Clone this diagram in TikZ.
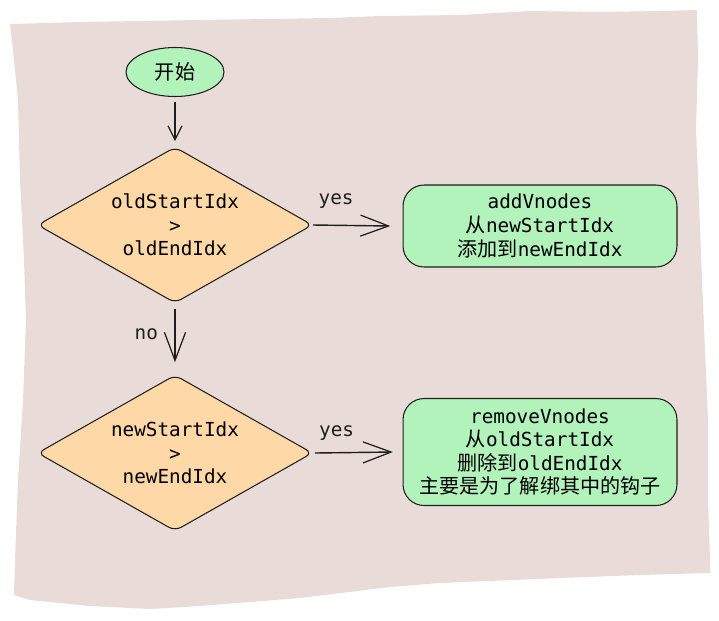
\documentclass[tikz,border=0pt]{standalone}
\usepackage{fontspec}
\setmonofont{DejaVu Sans Mono}
\newfontfamily\cjk{Noto Sans CJK SC}[Scale=1.04]
\usepackage{tikz}
\usetikzlibrary{
  % diamond and ellipse nodes
  shapes.geometric,%
  arrows.meta,%
  calc,%
  positioning
}
\definecolor{paper}{HTML}{E9DCD8}
\definecolor{startgreen}{HTML}{B2F2BB}
\definecolor{testpeach}{HTML}{FFD8A8}
\definecolor{ink}{HTML}{1E1E1E}
\newcommand{\zh}[1]{{\cjk #1}}
\tikzset{>={Straight Barb[length=8pt,width=8pt,line width=0.7pt]}}
\tikzset{font=\fontsize{11}{13.4}\selectfont\ttfamily}
\tikzset{startnode/.style={ellipse, draw=ink, fill=startgreen, line width=0.6pt,
    minimum width=1.96cm, minimum height=0.98cm, inner sep=0pt},
  testnode/.style={diamond, draw=ink, fill=testpeach, line width=0.6pt,
    rounded corners=4pt, aspect=1.7, minimum width=5.5cm, minimum height=3.12cm,
    inner sep=0pt, align=center},
  actnode/.style={rectangle, draw=ink, fill=startgreen, line width=0.6pt,
    rounded corners=12pt, minimum width=5.48cm, inner sep=0pt, align=center},
  flow/.style={->, draw=ink, line width=0.8pt},
  longflow/.style={-{Straight Barb[length=16pt,width=12pt,line width=0.7pt]},
    draw=ink, line width=0.8pt},
  flowlabel/.style={text=ink}}

\begin{document}
\begin{tikzpicture}[x=0.02cm, y=-0.02cm]
  \useasboundingbox (0,0) rectangle (719,620);
  % rough sheet behind the chart
  \fill[paper] (10,24) -- (80,22) -- (200,20) -- (330,18) -- (380,16) -- (460,15)
    -- (530,11) -- (600,12) -- (660,11) -- (697,10) -- (698,60) -- (696,130)
    -- (699,200) -- (702,280) -- (705,350) -- (708,420) -- (708,500) -- (710,560)
    -- (710,573) -- (640,575) -- (560,578) -- (440,583) -- (390,587) -- (300,598)
    -- (200,606) -- (150,609) -- (90,606) -- (30,600) -- (14,595) -- (15,560)
    -- (18,480) -- (23,400) -- (26,320) -- (24,260) -- (20,180) -- (18,100)
    -- (13,50) -- cycle;

  \node[startnode] (start) at (175,72) {\zh{开始}};
  \node[testnode] (oldtest) at (175,225) {oldStartIdx\\>\\oldEndIdx};
  \node[actnode, minimum height=1.64cm] (add) at (540,226)
    {addVnodes\\\zh{从}newStartIdx\\\zh{添加到}newEndIdx};
  \node[testnode] (newtest) at (175,453) {newStartIdx\\>\\newEndIdx};
  \node[actnode, minimum height=2.14cm] (remove) at (540,452)
    {removeVnodes\\\zh{从}oldStartIdx\\\zh{删除到}oldEndIdx\\\zh{主要是为了解绑其中的钩子}};

  \draw[flow] ([yshift=-3pt]start.south) -- ([yshift=3pt]oldtest.north);
  \draw[longflow] (oldtest.east) -- node[flowlabel, above=6pt, pos=0.3] {yes}
    ([xshift=-7pt]add.west);
  \draw[longflow] ([yshift=-3pt]oldtest.south) -- node[flowlabel, left=6pt, pos=0.48] {no}
    ([yshift=7pt]newtest.north);
  \draw[longflow] ([xshift=1pt]newtest.east) -- node[flowlabel, above=3pt, pos=0.28] {yes}
    ([xshift=-5.5pt]remove.west);
\end{tikzpicture}
\end{document}
